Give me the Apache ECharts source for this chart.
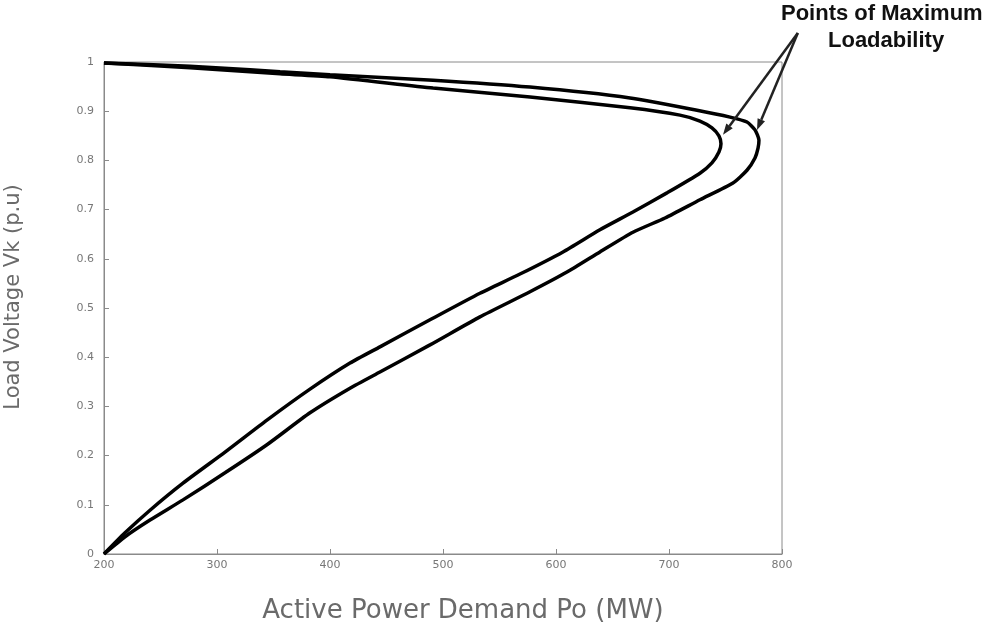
<!DOCTYPE html>
<html>
<head>
<meta charset="utf-8">
<script src="https://cdn.jsdelivr.net/npm/echarts@6/dist/echarts.min.js"></script>
<style>html,body{margin:0;padding:0;background:#fff;}#c{width:995px;height:627px;}</style>
</head>
<body>
<div id="c"></div>
<script>
// Inner curve (lower maximum loadability)
var innerP = [200, 249.6, 302.7, 355.8, 400, 491.2, 577, 665.5, 709.7, 727.4, 738, 744.2, 746, 744.2, 738, 727.4, 698.2, 668.1, 638.9, 606.2, 568.1, 532.7, 488.5, 444.2, 417.7, 382.3, 344.2, 307.1, 269.9, 240.7, 218.6, 200];
var innerV = [0.998, 0.992, 0.984, 0.976, 0.970, 0.947, 0.929, 0.907, 0.892, 0.880, 0.866, 0.850, 0.834, 0.817, 0.795, 0.774, 0.734, 0.695, 0.659, 0.614, 0.569, 0.530, 0.476, 0.421, 0.388, 0.335, 0.272, 0.207, 0.144, 0.089, 0.043, 0.0];
// Outer curve (higher maximum loadability)
var outerP = [200, 249.6, 302.7, 355.8, 400, 491.2, 577, 665.5, 724.8, 754, 769, 776.1, 779.6, 778.8, 776.1, 769, 756.6, 727.4, 696.5, 668.1, 638.9, 609.7, 577, 532.7, 488.5, 444.2, 417.7, 382.3, 344.2, 307.1, 269.9, 240.7, 218.6, 200];
var outerV = [0.998, 0.994, 0.988, 0.980, 0.974, 0.963, 0.949, 0.927, 0.902, 0.888, 0.878, 0.862, 0.841, 0.825, 0.805, 0.780, 0.754, 0.720, 0.683, 0.654, 0.614, 0.573, 0.533, 0.482, 0.425, 0.370, 0.337, 0.287, 0.222, 0.165, 0.110, 0.069, 0.035, 0.0];
// Annotation arrows: apex and arrow tips (data coords)
var arrowApex = [814, 1.059];
var arrowTipsP = [747.8, 777.9];
var arrowTipsV = [0.852, 0.862];
var annotationText = ['Points of Maximum', 'Loadability'];

function pairs(xs, ys) { return xs.map(function (x, i) { return [x, ys[i]]; }); }

var chart = echarts.init(document.getElementById('c'));
var axisColor = '#8a8a8a';
var labelColor = '#777';

chart.setOption({
  animation: false,
  backgroundColor: '#fff',
  grid: { left: 104, right: 213, top: 62, bottom: 73, show: true, borderColor: axisColor, borderWidth: 1,
    containLabel: false, outerBoundsMode: 'none' },
  xAxis: {
    type: 'value', min: 200, max: 800, interval: 100,
    name: 'Active Power Demand Po (MW)', nameLocation: 'middle', nameGap: 44,
    nameTextStyle: { color: '#6a6a6a', fontSize: 26, fontFamily: 'DejaVu Sans', padding: [0, 0, 0, 40] },
    axisLine: { show: true, lineStyle: { color: axisColor } },
    axisTick: { inside: true, length: 5, lineStyle: { color: axisColor } },
    axisLabel: { color: labelColor, fontSize: 11, margin: 6, fontFamily: 'DejaVu Sans' },
    splitLine: { show: false }
  },
  yAxis: {
    type: 'value', min: 0, max: 1, interval: 0.1,
    name: 'Load Voltage Vk (p.u)', nameLocation: 'middle', nameGap: 80,
    nameTextStyle: { color: '#6a6a6a', fontSize: 21, fontFamily: 'DejaVu Sans', padding: [0, 0, 0, 22] },
    axisLine: { show: true, lineStyle: { color: axisColor } },
    axisTick: { inside: true, length: 5, lineStyle: { color: axisColor } },
    axisLabel: { color: labelColor, fontSize: 11, margin: 10, fontFamily: 'DejaVu Sans',
      formatter: function (v) { return v === 0 ? '0' : (v === 1 ? '1' : v.toFixed(1)); } },
    splitLine: { show: false }
  },
  series: [{
    type: 'line', data: pairs(innerP, innerV), showSymbol: false, smooth: 0.2,
    lineStyle: { color: '#000', width: 3.5 }, clip: false
  }, {
    type: 'line', data: pairs(outerP, outerV), showSymbol: false, smooth: 0.2,
    lineStyle: { color: '#000', width: 3.5 }, clip: false
  }]
});

// annotation: arrows placed through the chart's own scales
var apexPx = chart.convertToPixel({ gridIndex: 0 }, arrowApex);
var graphics = [{
  type: 'text', left: 781, top: 3,
  style: { text: annotationText[0], fill: '#111', font: 'bold 22px "Liberation Sans"' }
}, {
  type: 'text', left: 828, top: 30,
  style: { text: annotationText[1], fill: '#111', font: 'bold 22px "Liberation Sans"' }
}];
arrowTipsP.forEach(function (p, i) {
  var tip = chart.convertToPixel({ gridIndex: 0 }, [p, arrowTipsV[i]]);
  var dx = tip[0] - apexPx[0], dy = tip[1] - apexPx[1];
  var len = Math.sqrt(dx * dx + dy * dy);
  var ux = dx / len, uy = dy / len;
  var hl = 11, hw = 4;
  var bx = tip[0] - ux * hl, by = tip[1] - uy * hl;
  graphics.push({
    type: 'line', silent: true, z: 10,
    shape: { x1: apexPx[0], y1: apexPx[1], x2: bx, y2: by },
    style: { stroke: '#222', lineWidth: 2.5 }
  });
  graphics.push({
    type: 'polygon', silent: true, z: 10,
    shape: { points: [[tip[0], tip[1]], [bx - uy * hw, by + ux * hw], [bx + uy * hw, by - ux * hw]] },
    style: { fill: '#222' }
  });
});
chart.setOption({ graphic: graphics });
</script>
</body>
</html>
